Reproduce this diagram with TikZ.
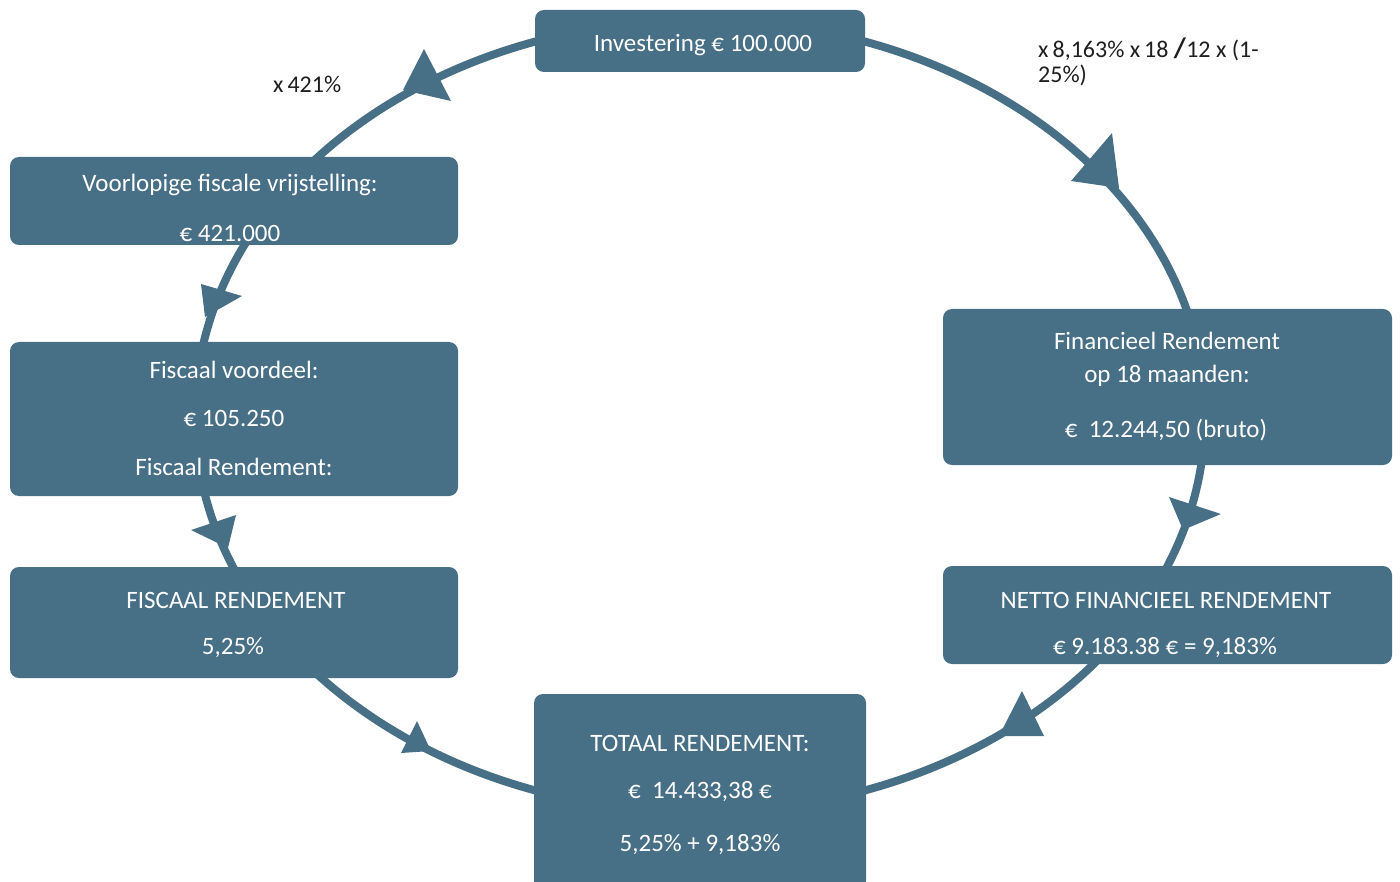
\documentclass[tikz,border=0pt]{standalone}
\usepackage{fontspec}
\setmainfont{Carlito}
\definecolor{boxblue}{RGB}{71,111,134}
\definecolor{labelgray}{RGB}{30,30,30}
\tikzset{
  stagebox/.style={fill=boxblue, draw=none, rounded corners=9pt},
  intext/.style={text=white, font=\fontsize{25}{29}\selectfont, inner sep=0pt, anchor=center},
  outtext/.style={text=labelgray, font=\fontsize{24}{28}\selectfont, inner sep=0pt},
  arrowtri/.style={fill=boxblue, draw=none},
  ring/.style={draw=boxblue, line width=8pt}
}
\begin{document}
\begin{tikzpicture}[x=1pt,y=-1pt]
\useasboundingbox (0,0) rectangle (1400,882);
% ring
\draw[ring] (700,416) ellipse [x radius=505, y radius=396];
% arrowheads
\fill[arrowtri] (424,49) -- (403,90) -- (451,101) -- cycle;
\fill[arrowtri] (1112,133) -- (1071,181) -- (1119,188) -- cycle;
\fill[arrowtri] (1169,497) -- (1221,514) -- (1183,530) -- cycle;
\fill[arrowtri] (1022,691) -- (999,736) -- (1044,736) -- cycle;
\fill[arrowtri] (417,721) -- (401,753) -- (431,751) -- cycle;
\fill[arrowtri] (236,515) -- (191,530) -- (228,548) -- cycle;
\fill[arrowtri] (201,284) -- (242,296) -- (205,317) -- cycle;
% boxes
\path[stagebox] (535,10) rectangle (865,72);
\node[inner sep=0pt] (inv) at (700,41) {};
\path[stagebox] (10,157) rectangle (458,245);
\node[inner sep=0pt] (vfv) at (234,201) {};
\path[stagebox] (10,342) rectangle (458,496);
\node[inner sep=0pt] (fv) at (234,419) {};
\path[stagebox] (10,567) rectangle (458,678);
\node[inner sep=0pt] (fr) at (234,622) {};
\path[stagebox] (534,694) rectangle (866,890);
\node[inner sep=0pt] (tot) at (700,790) {};
\path[stagebox] (943,566) rectangle (1392,664);
\node[inner sep=0pt] (net) at (1167,615) {};
\path[stagebox] (943,309) rectangle (1392,465);
\node[inner sep=0pt] (fin) at (1167,387) {};
% texts in boxes
\node[intext] (t1) at (703,45) {Investering € 100.000};
\node[intext] (t2) at (230,185) {Voorlopige fiscale vrijstelling:};
\node[intext] (t3) at (230,233) {€ 421.000};
\node[intext] (t4) at (234,370) {Fiscaal voordeel:};
\node[intext] (t5) at (234,418) {€ 105.250};
\node[intext] (t6) at (234,467) {Fiscaal Rendement:};
\node[intext] (t7) at (236,600) {FISCAAL RENDEMENT};
\node[intext] (t8) at (233,648) {5,25\%};
\node[intext] (t9) at (700,743) {TOTAAL RENDEMENT:};
\node[intext] (t10) at (700,792) {€\ \ 14.433,38 €};
\node[intext] (t11) at (700,845) {5,25\% + 9,183\%};
\node[intext] (t12) at (1166,600) {NETTO FINANCIEEL RENDEMENT};
\node[intext] (t13) at (1165,648) {€ 9.183.38 € = 9,183\%};
\node[intext] (t14) at (1167,341) {Financieel Rendement};
\node[intext] (t15) at (1167,376) {op 18 maanden:};
\node[intext] (t16) at (1166,430) {€\ \ 12.244,50 (bruto)};
% outside labels
\node[outtext, anchor=west] (l1) at (273,84) {x\,421\%};
\node[outtext, anchor=west] (l2) at (1038,49) {x\,8,163\% x\,18 {\fontsize{28}{28}\selectfont\textbf{/}}12 x (1-};
\node[outtext, anchor=west] (l3) at (1038,75) {25\%)};
\end{tikzpicture}
\end{document}
